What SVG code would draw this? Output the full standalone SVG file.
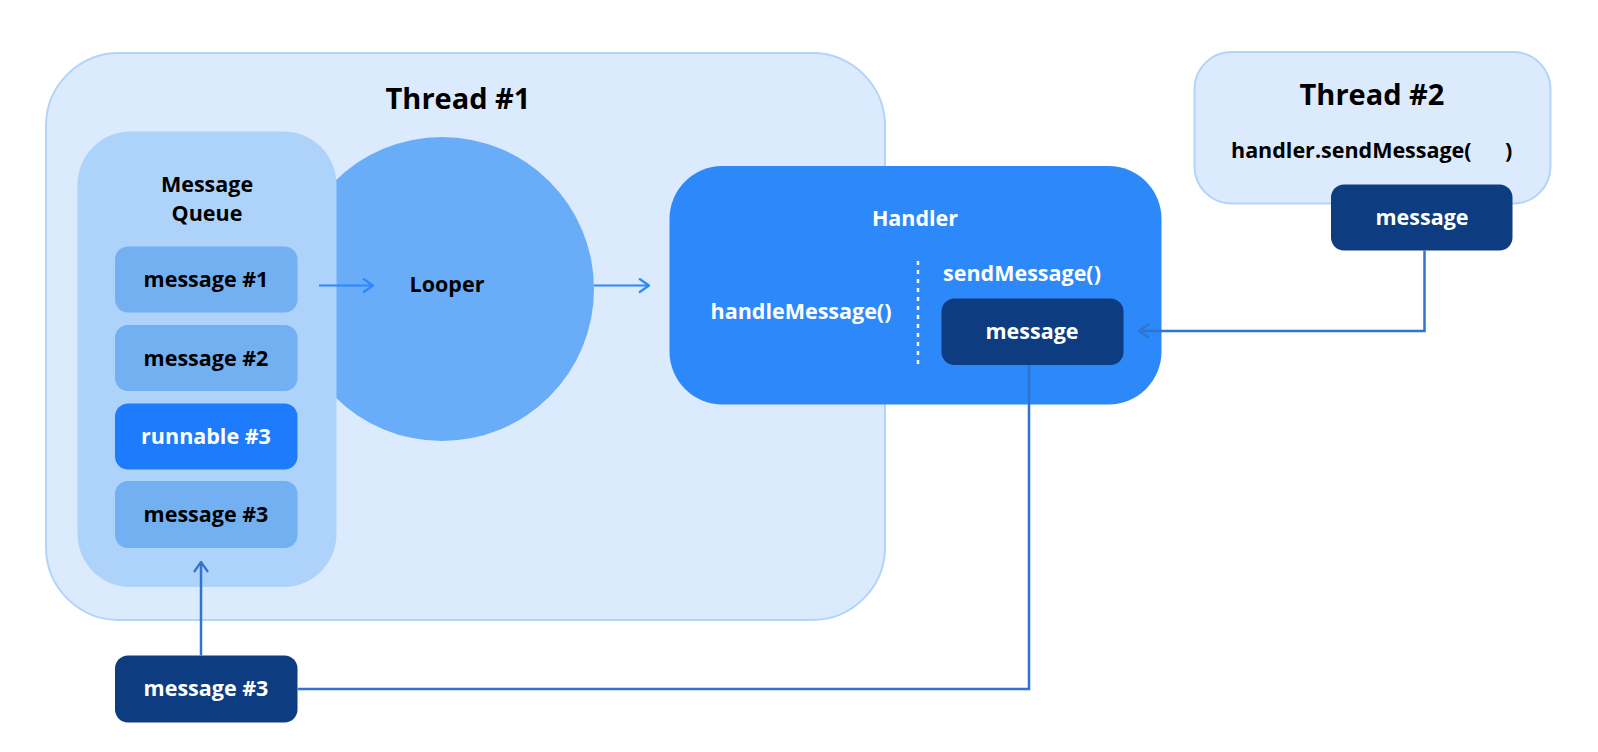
<svg xmlns="http://www.w3.org/2000/svg" width="1598" height="752" viewBox="0 0 1598 752">
<style>
text{font-family:"Open Sans","Noto Sans","Liberation Sans",sans-serif;font-weight:700;text-anchor:middle}
.t{font-size:29px;fill:#000}
.l{font-size:21.5px;fill:#000}
.w{font-size:21.5px;fill:#fff}
.c{fill:none;stroke:#2f74cf;stroke-width:2.5}
.a{fill:none;stroke:#2d88fa;stroke-width:2.2}
</style>
<defs>
<marker id="ah" viewBox="0 0 12 16" refX="11" refY="8" markerWidth="12" markerHeight="16" markerUnits="userSpaceOnUse" orient="auto">
<path d="M1,1 L11,8 L1,15" fill="none" stroke="#2d88fa" stroke-width="2.2"/>
</marker>
<marker id="ah2" viewBox="0 0 12 16" refX="11" refY="8" markerWidth="12" markerHeight="16" markerUnits="userSpaceOnUse" orient="auto">
<path d="M1,1 L11,8 L1,15" fill="none" stroke="#2f74cf" stroke-width="2.2"/>
</marker>
</defs>
<rect width="1598" height="752" fill="#fff"/>
<g id="thread1">
<rect x="46" y="53" width="839" height="567" rx="73" fill="#dbeafc" stroke="#b3d4f9" stroke-width="2"/>
<text class="t" x="458" y="109">Thread #1</text>
</g>
<g id="looper">
<circle cx="442" cy="289" r="152" fill="#69adf8"/>
<text class="l" x="447" y="292">Looper</text>
</g>
<g id="queue">
<rect x="77.5" y="131.5" width="259" height="455.5" rx="53" fill="#aed3fa"/>
<text class="l" x="207" y="192">Message</text>
<text class="l" x="207" y="221">Queue</text>
</g>
<g id="msg1">
<rect x="115" y="246.5" width="182.5" height="66" rx="13" fill="#72b0f2"/>
<text class="l" x="206" y="287">message #1</text>
</g>
<g id="msg2">
<rect x="115" y="325" width="182.5" height="66" rx="13" fill="#72b0f2"/>
<text class="l" x="206" y="365.5">message #2</text>
</g>
<g id="run3">
<rect x="115" y="403.5" width="182.5" height="66" rx="13" fill="#1e7bfc"/>
<text class="w" x="206" y="444">runnable #3</text>
</g>
<g id="msg3">
<rect x="115" y="481" width="182.5" height="67" rx="13" fill="#72b0f2"/>
<text class="l" x="206" y="521.5">message #3</text>
</g>
<g id="handler">
<rect x="669.5" y="166" width="492" height="238.5" rx="53" fill="#2d88fa"/>
<text class="w" x="915" y="226">Handler</text>
<text class="w" x="801" y="319">handleMessage()</text>
<text class="w" x="1022" y="281">sendMessage()</text>
<line x1="918" y1="261" x2="918" y2="365" stroke="#fff" stroke-width="2.5" stroke-dasharray="4 5"/>
</g>
<g id="hmsg">
<rect x="941.5" y="298.5" width="182" height="66.5" rx="13" fill="#0d3d80"/>
<text class="w" x="1032" y="339">message</text>
</g>
<g id="thread2">
<rect x="1194.5" y="52" width="356" height="151.5" rx="37" fill="#dbeafc" stroke="#b3d4f9" stroke-width="2"/>
<text class="t" x="1372" y="105">Thread #2</text>
<text class="l" x="1231" y="158" style="text-anchor:start">handler.sendMessage(<tspan x="1505">)</tspan></text>
</g>
<g id="t2msg">
<rect x="1331" y="184.5" width="181.5" height="66" rx="13" fill="#0d3d80"/>
<text class="w" x="1422" y="225">message</text>
</g>
<g id="outmsg3">
<rect x="115" y="655.5" width="182.5" height="67" rx="13" fill="#0d3d80"/>
<text class="w" x="206" y="696">message #3</text>
</g>
<g id="connectors">
<line class="a" x1="319" y1="285.5" x2="373" y2="285.5" marker-end="url(#ah)"/>
<line class="a" x1="594" y1="285.5" x2="649" y2="285.5" marker-end="url(#ah)"/>
<polyline class="c" points="1424.5,250.5 1424.5,331 1139,331" marker-end="url(#ah2)"/>
<polyline class="c" points="1029,365 1029,689 297.5,689"/>
<line class="c" x1="201" y1="655.5" x2="201" y2="562" marker-end="url(#ah2)"/>
</g>
</svg>
